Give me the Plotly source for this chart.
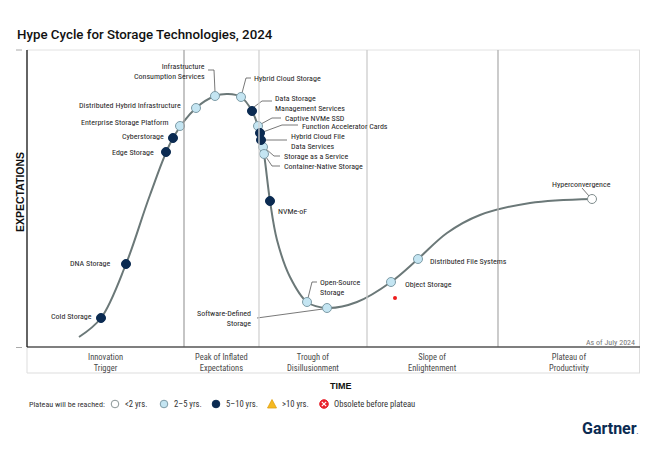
import plotly.graph_objects as go

# ---------------- data ----------------
# Hype curve (time, expectations)
curve_time = [52, 74, 99, 123, 146, 169, 188, 201, 214, 225, 233, 237, 243, 250, 263, 280, 300, 330, 364, 391, 420, 453, 503, 565]
curve_expect = [10, 29, 83, 152, 209, 239, 251, 253, 250, 236, 214, 193, 146, 107, 70, 45, 39, 45, 65, 88, 114, 132, 144, 148]

tech_names = [
    "Cold Storage", "DNA Storage", "Edge Storage", "Cyberstorage",
    "Enterprise Storage Platform", "Distributed Hybrid Infrastructure",
    "Infrastructure<br>Consumption Services", "Hybrid Cloud Storage",
    "Data Storage<br>Management Services", "Captive NVMe SSD",
    "Function Accelerator Cards", "Hybrid Cloud File<br>Data Services",
    "Storage as a Service", "Container-Native Storage", "NVMe-oF",
    "Open-Source<br>Storage", "Software-Defined<br>Storage", "Object Storage",
    "Distributed File Systems", "Hyperconvergence",
]
tech_time = [74, 99, 139, 146, 153, 169, 188, 214, 225, 231, 233, 234, 236, 237, 243, 280, 300, 364, 391, 565]
tech_expect = [29, 83, 195, 209, 221, 239, 251, 250, 236, 221, 214, 207, 200, 193, 146, 45, 39, 65, 88, 148]
tech_plateau = ["5-10", "5-10", "5-10", "5-10", "2-5", "2-5", "2-5", "2-5", "5-10", "2-5",
                "5-10", "5-10", "2-5", "2-5", "5-10", "2-5", "2-5", "2-5", "2-5", "<2"]

stray_time = [368]
stray_expect = [49]

phase_names = ["Innovation<br>Trigger", "Peak of Inflated<br>Expectations", "Trough of<br>Disillusionment",
               "Slope of<br>Enlightenment", "Plateau of<br>Productivity"]
phase_bounds = [0, 157, 232, 340, 471, 613]

legend_labels = ["<2 yrs.", "2–5 yrs.", "5–10 yrs.", ">10 yrs.", "Obsolete before plateau"]

# ---------------- styles / layout positions ----------------
X_MAX, Y_MIN, Y_MAX = 613, -26, 297
NARROW = "Liberation Sans Narrow, Arial Narrow, Roboto Condensed, sans-serif"
LABEL_SIZE = 8
styles = {
    "<2": dict(color="#ffffff", line=dict(color="#7f8c8d", width=1)),
    "2-5": dict(color="#c4e5f2", line=dict(color="#7d9ba6", width=1)),
    "5-10": dict(color="#0b2b52", line=dict(color="#0b2b52", width=1)),
}
# label placement: (anchor, x, y, leader path)
label_pos = {
    "Cold Storage": ("right", 67, 31, None),
    "DNA Storage": ("right", 86, 84, None),
    "Edge Storage": ("right", 129, 195, None),
    "Cyberstorage": ("right", 139, 211, None),
    "Enterprise Storage Platform": ("right", 143, 225, None),
    "Distributed Hybrid Infrastructure": ("right", 156, 242, None),
    "Infrastructure<br>Consumption Services": ("right", 180, 275.5, [(181, 277), (187, 277), (188, 255)]),
    "Hybrid Cloud Storage": ("left", 225, 269, [(224, 269), (219, 269), (215, 254)]),
    "Data Storage<br>Management Services": ("left", 246, 244, [(245, 246), (235, 246), (227, 240)]),
    "Captive NVMe SSD": ("left", 256, 229, [(254, 229), (245, 229), (234, 223)]),
    "Function Accelerator Cards": ("left", 273, 221, [(271, 222), (255, 222), (236, 215)]),
    "Hybrid Cloud File<br>Data Services": ("left", 262, 205.5, [(260, 207), (238, 207)]),
    "Storage as a Service": ("left", 255, 191, [(253, 191), (247, 191), (239, 198)]),
    "Container-Native Storage": ("left", 255, 181, [(253, 181), (245, 181), (239, 190)]),
    "NVMe-oF": ("left", 249, 136, None),
    "Open-Source<br>Storage": ("left", 291, 59.5, [(290, 65), (285, 65), (281, 49)]),
    "Software-Defined<br>Storage": ("right", 226, 28.5, [(230, 29), (296, 38)]),
    "Object Storage": ("left", 376, 63, None),
    "Distributed File Systems": ("left", 401, 86, None),
    "Hyperconvergence": ("center", 554, 163, [(555, 159), (562, 151)]),
}


def px(xp):  # screen pixel -> paper x (plot area spans 27..640)
    return (xp - 27) / 613


def py(yp):  # screen pixel -> paper y (plot area spans 50..373)
    return (373 - yp) / 323


fig = go.Figure()

# hype curve
fig.add_trace(go.Scatter(x=curve_time, y=curve_expect, mode="lines",
                         line=dict(color="#6b7878", width=2, shape="spline", smoothing=1.0),
                         hoverinfo="skip", showlegend=False))

# leader lines
lx, ly = [], []
for name in tech_names:
    path = label_pos[name][3]
    if path:
        for (a, b) in path:
            lx.append(a)
            ly.append(b)
        lx.append(None)
        ly.append(None)
fig.add_trace(go.Scatter(x=lx, y=ly, mode="lines", line=dict(color="#555555", width=0.8),
                         hoverinfo="skip", showlegend=False))

# technology dots
for cat in ["<2", "2-5", "5-10"]:
    idx = [i for i, c in enumerate(tech_plateau) if c == cat]
    st = styles[cat]
    fig.add_trace(go.Scatter(
        x=[tech_time[i] for i in idx], y=[tech_expect[i] for i in idx], mode="markers",
        marker=dict(size=9, color=st["color"], line=st["line"]),
        text=[tech_names[i] for i in idx], hoverinfo="text", showlegend=False))

fig.add_trace(go.Scatter(x=stray_time, y=stray_expect, mode="markers",
                         marker=dict(size=4, color="#ee1c1c"), hoverinfo="skip", showlegend=False))

annotations = []
for name in tech_names:
    anc, x, y, _ = label_pos[name]
    annotations.append(dict(x=x, y=y, text=name, showarrow=False, xanchor=anc, yanchor="middle",
                            align=anc,
                            font=dict(family=NARROW, size=LABEL_SIZE, color="#262626")))

# phase labels
for i, nm in enumerate(phase_names):
    annotations.append(dict(x=(phase_bounds[i] + phase_bounds[i + 1]) / 2, y=-15, text=nm,
                            showarrow=False, xanchor="center", yanchor="middle",
                            font=dict(family=NARROW, size=8.5, color="#4a4a4a")))

annotations.append(dict(x=610, y=5, text="As of July 2024", showarrow=False, xanchor="right",
                        yanchor="middle", font=dict(family=NARROW, size=8, color="#777777")))

# title & axis titles
annotations.append(dict(xref="paper", yref="paper", x=px(15), y=py(35), text="Hype Cycle for Storage Technologies, 2024",
                        showarrow=False, xanchor="left", yanchor="middle",
                        font=dict(family="Roboto, sans-serif", size=13.3, color="#111111", weight=500)))
annotations.append(dict(xref="paper", yref="paper", x=px(20), y=py(192), text="EXPECTATIONS", textangle=-90,
                        showarrow=False, xanchor="center", yanchor="middle",
                        font=dict(family="Liberation Sans, Arial, sans-serif", size=10.5, color="#111111", weight="bold")))
annotations.append(dict(xref="paper", yref="paper", x=px(341), y=py(386), text="TIME",
                        showarrow=False, xanchor="center", yanchor="middle",
                        font=dict(family="Liberation Sans, Arial, sans-serif", size=9, color="#111111", weight="bold")))

# legend
legend_y = py(404)
annotations.append(dict(xref="paper", yref="paper", x=px(27), y=legend_y, text="Plateau will be reached:",
                        showarrow=False, xanchor="left", yanchor="middle",
                        font=dict(family=NARROW, size=8.1, color="#333333")))
leg_mark_x = [115, 164, 216, 272, 324]
leg_text_x = [123, 172, 224, 280, 332]
for t, xt in zip(legend_labels, leg_text_x):
    annotations.append(dict(xref="paper", yref="paper", x=px(xt), y=legend_y, text=t,
                            showarrow=False, xanchor="left", yanchor="middle",
                            font=dict(family=NARROW, size=8.6, color="#333333")))

annotations.append(dict(xref="paper", yref="paper", x=px(641), y=py(428), text="Gartner<span style='font-size:6px'>.</span>",
                        showarrow=False, xanchor="right", yanchor="middle",
                        font=dict(family="Roboto, Inter, sans-serif", size=16, color="#0b2b52", weight="bold")))

# shapes
shapes = []


def hline(y0, x0, x1, color, w=1):
    shapes.append(dict(type="line", xref="paper", yref="paper", x0=px(x0), x1=px(x1), y0=py(y0), y1=py(y0),
                       line=dict(color=color, width=w)))


def vline(x0, y0, y1, color, w=1):
    shapes.append(dict(type="line", xref="paper", yref="paper", x0=px(x0), x1=px(x0), y0=py(y0), y1=py(y1),
                       line=dict(color=color, width=w)))


def circle(cx, cy, r, fill, line, w=1):
    shapes.append(dict(type="circle", xref="paper", yref="paper", x0=px(cx - r), x1=px(cx + r),
                       y0=py(cy + r), y1=py(cy - r), fillcolor=fill, line=dict(color=line, width=w)))


hline(50, 27, 640, "#e2e2e2")
vline(639.5, 50, 373, "#dddddd")
hline(373, 27, 640, "#dddddd")
vline(27, 347, 373, "#dddddd")
# phase dividers
div_colors = ["#a6a6a6", "#d2d2d2", "#cccccc", "#b0b0b0"]
for b, c in zip(phase_bounds[1:-1], div_colors):
    shapes.append(dict(type="line", xref="x", yref="y", x0=b, x1=b, y0=0, y1=Y_MAX, line=dict(color=c, width=1.3)))
hline(347, 27, 640, "#555555", 1.3)
vline(27, 50, 347, "#111111", 1.3)
hline(50, 16, 22, "#aaaaaa")
hline(347.5, 16, 22, "#aaaaaa")

# legend marks
circle(leg_mark_x[0], 404, 3.8, "#ffffff", "#8a9596")
circle(leg_mark_x[1], 404, 3.8, "#c4e5f2", "#7d9ba6")
circle(leg_mark_x[2], 404, 3.8, "#0b2b52", "#0b2b52")
tx = leg_mark_x[3]
shapes.append(dict(type="path", xref="paper", yref="paper",
                   path=f"M {px(tx - 4.5)},{py(408)} L {px(tx + 4.5)},{py(408)} L {px(tx)},{py(399.5)} Z",
                   fillcolor="#f5b921", line=dict(color="#e0a010", width=0.8)))
ox = leg_mark_x[4]
circle(ox, 404, 4.3, "#e8202a", "#e8202a")
for d in (1, -1):
    shapes.append(dict(type="line", xref="paper", yref="paper", x0=px(ox - 2.2), x1=px(ox + 2.2),
                       y0=py(404 - 2.2 * d), y1=py(404 + 2.2 * d), line=dict(color="#ffffff", width=1.2)))

# the page body adds an 8px offset, so the figure is 8px smaller and margins shifted
fig.update_layout(
    width=658, height=467,
    margin=dict(l=19, r=26, t=42, b=102),
    paper_bgcolor="white", plot_bgcolor="white",
    xaxis=dict(range=[0, X_MAX], visible=False, fixedrange=True),
    yaxis=dict(range=[Y_MIN, Y_MAX], visible=False, fixedrange=True),
    annotations=annotations, shapes=shapes, showlegend=False,
)

fig.write_html("out.html")
